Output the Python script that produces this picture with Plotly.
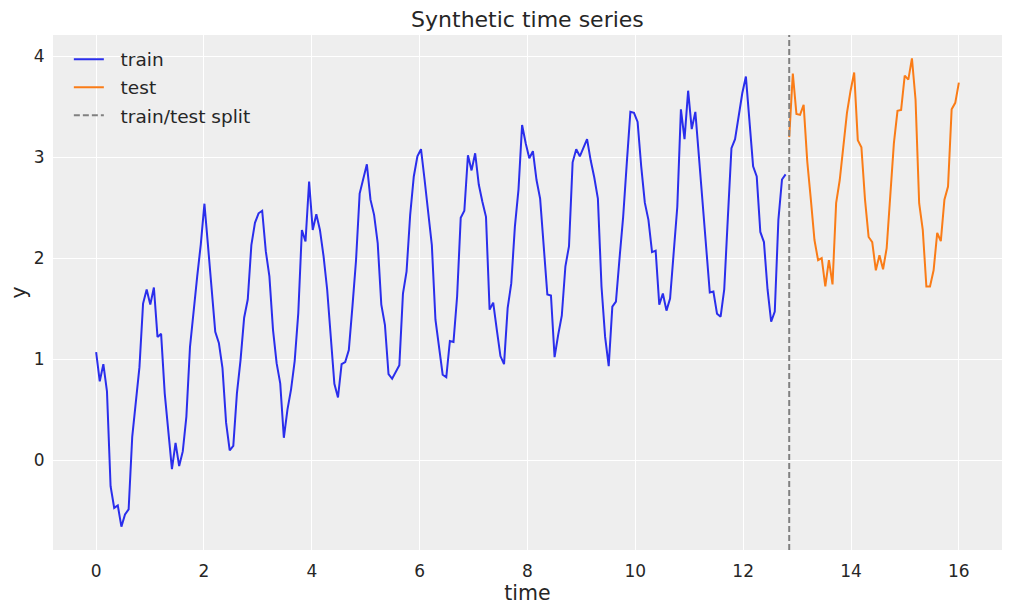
import numpy as np
import plotly.graph_objects as go

n_points = 240
time = np.linspace(0, 16, n_points)

train_y = [
    1.07, 0.78, 0.95, 0.68, -0.26, -0.475, -0.45, -0.66, -0.54, -0.49,
    0.23, 0.61, 0.92, 1.55, 1.69, 1.54, 1.71, 1.22, 1.25, 0.66,
    0.27, -0.09, 0.17, -0.06, 0.085, 0.43, 1.12, 1.49, 1.82, 2.14,
    2.54, 2.12, 1.70, 1.27, 1.16, 0.91, 0.37, 0.095, 0.14, 0.66,
    0.99, 1.41, 1.59, 2.13, 2.35, 2.445, 2.47, 2.07, 1.82, 1.29,
    0.96, 0.76, 0.22, 0.50, 0.70, 0.98, 1.455, 2.28, 2.165, 2.76,
    2.28, 2.435, 2.28, 2.02, 1.69, 1.26, 0.755, 0.62, 0.95, 0.97,
    1.09, 1.52, 1.98, 2.64, 2.78, 2.93, 2.58, 2.43, 2.15, 1.54,
    1.34, 0.85, 0.805, 0.88, 0.94, 1.65, 1.87, 2.43, 2.81, 3.01,
    3.08, 2.775, 2.445, 2.13, 1.39, 1.09, 0.845, 0.82, 1.18, 1.17,
    1.62, 2.40, 2.47, 3.02, 2.87, 3.04, 2.73, 2.56, 2.41, 1.49,
    1.56, 1.29, 1.03, 0.95, 1.505, 1.75, 2.31, 2.68, 3.32, 3.14,
    2.99, 3.06, 2.775, 2.59, 2.115, 1.64, 1.63, 1.02, 1.24, 1.43,
    1.92, 2.12, 2.95, 3.08, 3.01, 3.10, 3.18, 2.97, 2.80, 2.59,
    1.72, 1.22, 0.93, 1.52, 1.57, 2.0, 2.41, 2.94, 3.45, 3.44,
    3.35, 2.91, 2.55, 2.38, 2.06, 2.075, 1.54, 1.65, 1.48, 1.60,
    2.02, 2.51, 3.475, 3.18, 3.66, 3.28, 3.45, 3.01, 2.51, 2.115,
    1.66, 1.67, 1.45, 1.42, 1.69, 2.40, 3.09, 3.18, 3.42, 3.635,
    3.80, 3.32, 2.91, 2.81, 2.26, 2.16, 1.69, 1.37, 1.47, 2.38,
    2.78, 2.83,
]

test_y = [
    3.2, 3.83, 3.43, 3.42, 3.52, 2.96, 2.58, 2.18, 1.98, 2.0,
    1.72, 1.98, 1.74, 2.545, 2.775, 3.14, 3.44, 3.66, 3.84, 3.17,
    3.10, 2.58, 2.21, 2.16, 1.88, 2.03, 1.89, 2.10, 2.58, 3.14,
    3.46, 3.47, 3.81, 3.77, 3.98, 3.57, 2.545, 2.28, 1.72, 1.72,
    1.88, 2.25, 2.17, 2.58, 2.71, 3.475, 3.54, 3.74,
]

legend_labels = ["train", "test", "train/test split"]

n_train = len(train_y)
train_t = time[:n_train]
test_t = time[n_train:]
split_t = test_t[0]

text_color = "#262626"
font_family = "DejaVu Sans, Verdana, sans-serif"
lead = "\u00a0\u00a0"

fig = go.Figure()
fig.add_trace(go.Scatter(
    x=train_t, y=train_y, mode="lines", name=lead + legend_labels[0],
    line=dict(color="#2a2eec", width=2), legendgroup="a",
))
fig.add_trace(go.Scatter(
    x=test_t, y=test_y, mode="lines", name=lead + legend_labels[1],
    line=dict(color="#fa7c17", width=2), legendgroup="b",
))
fig.add_shape(
    type="line", x0=split_t, x1=split_t, y0=0, y1=1, yref="paper", xref="x",
    line=dict(color="grey", width=2, dash="6px,3px"),
    showlegend=True, name=lead + legend_labels[2], legendgroup="c", layer="above",
)

all_y = np.array(train_y + test_y)
y_lo, y_hi = all_y.min(), all_y.max()
pad = 0.05 * (y_hi - y_lo)
x_pad = 0.05 * (time[-1] - time[0])

fig.update_layout(
    width=1011, height=611,
    margin=dict(l=53, r=9, t=35, b=61),
    paper_bgcolor="white",
    plot_bgcolor="#eeeeee",
    font=dict(family=font_family, color=text_color, size=17),
    title=dict(text="Synthetic time series", x=0.5217, xanchor="center",
               y=0.968, yanchor="middle",
               font=dict(size=22, color=text_color)),
    legend=dict(x=0.0167, y=0.989, xanchor="left", yanchor="top",
                bgcolor="rgba(0,0,0,0)", borderwidth=0,
                font=dict(size=18.5, color=text_color),
                tracegroupgap=1),
    showlegend=True,
)
fig.update_xaxes(
    range=[time[0] - x_pad, time[-1] + x_pad],
    tickmode="array", tickvals=list(range(0, 17, 2)),
    showgrid=True, gridcolor="white", gridwidth=1,
    zeroline=False, showline=False,
    ticks="outside", ticklen=6, tickcolor="rgba(0,0,0,0)",
    tickfont=dict(size=17),
    title=dict(text="time", font=dict(size=20.5), standoff=1),
)
fig.update_yaxes(
    range=[y_lo - pad, y_hi + pad],
    tickmode="array", tickvals=[0, 1, 2, 3, 4],
    showgrid=True, gridcolor="white", gridwidth=1,
    zeroline=False, showline=False,
    ticks="outside", ticklen=4, tickcolor="rgba(0,0,0,0)",
    tickfont=dict(size=17),
    title=dict(text="y", font=dict(size=20.5), standoff=1),
)

fig.write_html("out.html")
